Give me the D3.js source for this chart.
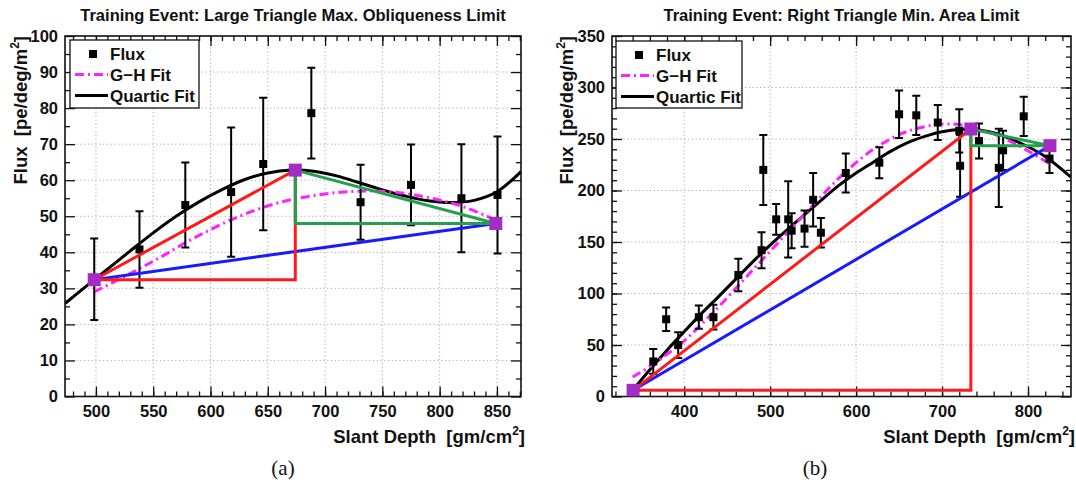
<!DOCTYPE html>
<html>
<head>
<meta charset="utf-8">
<script src="https://cdn.jsdelivr.net/npm/d3@7"></script>
<style>
  body { margin: 0; background: #fff; }
  svg { display: block; }
  text { font-family: "Liberation Sans", Arial, Helvetica, sans-serif; font-weight: bold; fill: #111; white-space: pre; }
  .caption { font-family: "Liberation Serif", "DejaVu Serif", serif; font-weight: normal; }
</style>
</head>
<body>
<svg id="chart" width="1076" height="485"></svg>
<script>
// ---------- Panel (a): Large Triangle Max. Obliqueness Limit ----------
const depthA = [498.5, 538, 578, 618, 646, 688, 731, 775, 819, 850.5];
const fluxA  = [32.5, 40.8, 53.1, 56.7, 64.5, 78.6, 53.9, 58.7, 55.0, 55.9];
const errA   = [11.3, 10.6, 11.8, 17.9, 18.4, 12.6, 10.4, 11.2, 15.0, 16.2];

const vertexDepthA = [498.5, 674, 849];
const vertexFluxA  = [32.4, 62.8, 48.0];

const ghDepthA = [498.5, 520, 540, 560, 580, 600, 620, 640, 660, 680, 700, 720, 740, 760, 780, 800, 820, 840, 849];
const ghFluxA  = [29.0, 32.5, 35.8, 39.3, 43.0, 46.3, 49.3, 51.8, 53.8, 55.2, 56.2, 56.8, 57.0, 56.7, 55.8, 54.5, 52.7, 50.2, 48.9];

const quartDepthA = [473, 490, 510, 530, 550, 570, 590, 610, 630, 650, 670, 690, 710, 730, 750, 770, 790, 810, 830, 850, 871];
const quartFluxA  = [25.8, 30.2, 35.3, 40.4, 45.4, 50.0, 54.0, 57.4, 60.2, 62.0, 62.8, 62.5, 61.2, 59.3, 57.3, 55.6, 54.3, 53.8, 54.4, 56.8, 62.4];

const xTicksA = [500, 550, 600, 650, 700, 750, 800, 850];
const yTicksA = [0, 10, 20, 30, 40, 50, 60, 70, 80, 90, 100];

// ---------- Panel (b): Right Triangle Min. Area Limit ----------
const depthB = [364, 379, 393, 417, 434, 463, 490, 492, 507, 521, 525, 540, 550, 559, 588, 627, 650, 670, 695, 720, 721, 743, 766, 771, 795, 825];
const fluxB  = [34, 75, 50, 77, 77, 118, 142, 220, 172, 172, 161, 163, 191, 159, 217, 227, 274, 273, 266, 258, 224, 248, 222, 239, 272, 231];
const errB   = [12, 11.3, 12.5, 11.3, 12, 15.7, 17.5, 34, 15, 37, 17, 17.7, 26, 14.3, 19, 15, 23, 19, 17, 21, 30, 17, 38, 19, 19, 14];

const vertexDepthB = [340.5, 733.5, 825.5];
const vertexFluxB  = [6, 259.7, 243.5];

const ghDepthB = [340, 360, 380, 400, 420, 440, 460, 480, 500, 520, 540, 560, 580, 600, 620, 640, 660, 680, 700, 720, 740, 760, 780, 800, 825];
const ghFluxB  = [19, 29, 41, 54, 70, 87, 105, 123, 141, 159, 177, 195, 212, 227, 240, 250, 257.5, 262, 264.5, 264, 260.5, 255, 247.5, 238.5, 226];

const quartDepthB = [340, 360, 380, 400, 420, 440, 460, 480, 500, 520, 540, 560, 580, 600, 620, 640, 660, 680, 700, 720, 740, 760, 780, 800, 820, 850];
const quartFluxB  = [6, 26, 45, 63, 80.5, 97, 114, 131, 147, 162, 176.5, 191, 205, 217, 227.5, 238, 246.5, 252.5, 257, 259.3, 259, 256, 250, 242.5, 233, 213];

const xTicksB = [400, 500, 600, 700, 800];
const yTicksB = [0, 50, 100, 150, 200, 250, 300, 350];

const legendLabels = ["Flux", "G\u2212H Fit", "Quartic Fit"];

// ---------- styling ----------
const COL = {
  red: "#ff1a1a", blue: "#1a1aff", green: "#22a04a",
  magenta: "#ff22ff", vertex: "#a22cc4", grid: "#aaaaaa"
};

const svg = d3.select("#chart");

function range(a, b, step) { return d3.range(a, b + step / 2, step); }

function drawPanel(p) {
  const x = d3.scaleLinear().domain(p.xDomain).range([p.left, p.right]);
  const y = d3.scaleLinear().domain(p.yDomain).range([p.bottom, p.top]);
  const g = svg.append("g");
  const clipId = "clip-" + p.id;
  g.append("clipPath").attr("id", clipId).append("rect")
    .attr("x", p.left).attr("y", p.top)
    .attr("width", p.right - p.left).attr("height", p.bottom - p.top);

  // dotted grid
  const grid = g.append("g").attr("stroke", COL.grid).attr("stroke-width", 1)
    .attr("stroke-dasharray", "1.2,2.6");
  grid.selectAll(".gx").data(p.xGrid).join("line")
    .attr("x1", d => x(d)).attr("x2", d => x(d))
    .attr("y1", p.top).attr("y2", p.bottom);
  grid.selectAll(".gy").data(p.yGrid).join("line")
    .attr("y1", d => y(d)).attr("y2", d => y(d))
    .attr("x1", p.left).attr("x2", p.right);

  // axes with inward ticks on all four sides
  const H = p.bottom - p.top, W = p.right - p.left;
  function axes(axisFn, transform, scale, major, minor, labelled, padding) {
    const gm = g.append("g").attr("transform", transform);
    gm.call(axisFn(scale).tickValues(minor).tickSize(-5).tickFormat(""));
    gm.select(".domain").remove();
    const gM = g.append("g").attr("transform", transform);
    gM.call(axisFn(scale).tickValues(major).tickSize(-10).tickPadding(padding)
      .tickFormat(d => (labelled && labelled(d)) ? d : ""));
    gM.select(".domain").remove();
    [gm, gM].forEach(s => s.selectAll("line").attr("stroke", "#111").attr("stroke-width", 1.3));
    gM.selectAll("text").attr("font-size", 16.5).attr("font-family", null).attr("fill", "#111");
    return gM;
  }
  axes(d3.axisBottom, `translate(0,${p.bottom})`, x, p.xMajor, p.xMinor, p.xLabel, 9);
  axes(d3.axisTop, `translate(0,${p.top})`, x, p.xMajor, p.xMinor, null, 3);
  axes(d3.axisLeft, `translate(${p.left},0)`, y, p.yMajor, p.yMinor, d => true, 7);
  axes(d3.axisRight, `translate(${p.right},0)`, y, p.yMajor, p.yMinor, null, 3);

  // frame
  g.append("rect").attr("x", p.left).attr("y", p.top).attr("width", W).attr("height", H)
    .attr("fill", "none").attr("stroke", "#111").attr("stroke-width", 1.6);

  const plot = g.append("g").attr("clip-path", `url(#${clipId})`);
  const line = d3.line().x(d => x(d[0])).y(d => y(d[1])).curve(d3.curveCatmullRom.alpha(0.5));

  // fit curves
  plot.append("path").datum(d3.zip(p.qD, p.qF)).attr("d", line)
    .attr("fill", "none").attr("stroke", "#000").attr("stroke-width", 3);
  plot.append("path").datum(d3.zip(p.ghD, p.ghF)).attr("d", line)
    .attr("fill", "none").attr("stroke", COL.magenta).attr("stroke-width", 3)
    .attr("stroke-dasharray", "9,4,2,4");

  // data points with error bars
  const pts = plot.append("g");
  const data = p.depth.map((d, i) => ({ d, f: p.flux[i], e: p.err[i] }));
  const bars = pts.selectAll("g").data(data).join("g").attr("stroke", "#000").attr("stroke-width", 2);
  bars.append("line").attr("x1", d => x(d.d)).attr("x2", d => x(d.d))
    .attr("y1", d => y(d.f - d.e)).attr("y2", d => y(d.f + d.e));
  bars.append("line").attr("x1", d => x(d.d) - 4).attr("x2", d => x(d.d) + 4)
    .attr("y1", d => y(d.f + d.e)).attr("y2", d => y(d.f + d.e));
  bars.append("line").attr("x1", d => x(d.d) - 4).attr("x2", d => x(d.d) + 4)
    .attr("y1", d => y(d.f - d.e)).attr("y2", d => y(d.f - d.e));
  pts.selectAll("rect").data(data).join("rect")
    .attr("x", d => x(d.d) - 4).attr("y", d => y(d.f) - 4)
    .attr("width", 8).attr("height", 8).attr("fill", "#000");

  // training-event triangles
  const v = p.vD.map((d, i) => [d, p.vF[i]]);
  const straight = d3.line().x(d => x(d[0])).y(d => y(d[1]));
  plot.append("path").datum([v[0], v[2]]).attr("d", straight)
    .attr("fill", "none").attr("stroke", COL.blue).attr("stroke-width", 3);
  plot.append("path").datum([v[0], v[1], [v[1][0], v[0][1]], v[0]]).attr("d", straight)
    .attr("fill", "none").attr("stroke", COL.red).attr("stroke-width", 3);
  plot.append("path").datum([v[1], v[2], [v[1][0], v[2][1]], v[1]]).attr("d", straight)
    .attr("fill", "none").attr("stroke", COL.green).attr("stroke-width", 3);
  plot.selectAll(".vtx").data(v).join("rect")
    .attr("x", d => x(d[0]) - 6.5).attr("y", d => y(d[1]) - 6.5)
    .attr("width", 13).attr("height", 13).attr("fill", COL.vertex);

  // legend
  const L = p.legend;
  const lg = g.append("g");
  lg.append("rect").attr("x", L.x).attr("y", L.y).attr("width", L.w).attr("height", L.h)
    .attr("fill", "#fff").attr("stroke", "#111").attr("stroke-width", 1.3);
  const rows = [L.y + 14, L.y + 34.5, L.y + 55.5];
  lg.append("rect").attr("x", L.x + 19).attr("y", rows[0] - 4).attr("width", 8).attr("height", 8).attr("fill", "#000");
  lg.append("line").attr("x1", L.x + 5).attr("x2", L.x + 38).attr("y1", rows[1]).attr("y2", rows[1])
    .attr("stroke", COL.magenta).attr("stroke-width", 3).attr("stroke-dasharray", "9,4,2,4");
  lg.append("line").attr("x1", L.x + 5).attr("x2", L.x + 38).attr("y1", rows[2]).attr("y2", rows[2])
    .attr("stroke", "#000").attr("stroke-width", 3);
  lg.selectAll("text").data(legendLabels).join("text")
    .attr("x", L.x + 40).attr("y", (d, i) => rows[i] + 6).attr("font-size", 17).text(d => d);

  // titles
  g.append("text").attr("x", (p.left + p.right) / 2).attr("y", 21).attr("text-anchor", "middle")
    .attr("font-size", 16.5).text(p.title);
  const xt = g.append("text").attr("x", p.right + 4).attr("y", 443).attr("text-anchor", "end").attr("font-size", 18.5);
  xt.append("tspan").text("Slant Depth  [gm/cm");
  xt.append("tspan").attr("dy", -8).attr("font-size", 12).text("2");
  xt.append("tspan").attr("dy", 8).text("]");
  const yt = g.append("text").attr("transform", `translate(${p.yTitleX},${p.top}) rotate(-90)`)
    .attr("text-anchor", "end").attr("font-size", 18.5);
  yt.append("tspan").text("Flux  [pe/deg/m");
  yt.append("tspan").attr("dy", -8).attr("font-size", 12).text("2");
  yt.append("tspan").attr("dy", 8).text("]");

  g.append("text").attr("class", "caption").attr("x", p.captionX).attr("y", 475)
    .attr("text-anchor", "middle").attr("font-size", 21).text(p.caption);
}

drawPanel({
  id: "a", left: 65, right: 521, top: 36, bottom: 396.5,
  xDomain: [473, 871], yDomain: [0, 100],
  xMajor: xTicksA, xMinor: range(480, 870, 10), xLabel: d => true, xGrid: xTicksA,
  yMajor: yTicksA, yMinor: range(5, 95, 10), yGrid: yTicksA.slice(1, -1),
  depth: depthA, flux: fluxA, err: errA, vD: vertexDepthA, vF: vertexFluxA,
  ghD: ghDepthA, ghF: ghFluxA, qD: quartDepthA, qF: quartFluxA,
  legend: { x: 70, y: 40, w: 129, h: 68 },
  title: "Training Event: Large Triangle Max. Obliqueness Limit",
  yTitleX: 27, caption: "(a)", captionX: 283
});

drawPanel({
  id: "b", left: 612, right: 1071, top: 36, bottom: 396.5,
  xDomain: [316, 850], yDomain: [0, 350],
  xMajor: xTicksB, xMinor: range(320, 840, 20), xLabel: d => true, xGrid: xTicksB,
  yMajor: yTicksB, yMinor: range(10, 340, 10), yGrid: yTicksB.slice(1, -1),
  depth: depthB, flux: fluxB, err: errB, vD: vertexDepthB, vF: vertexFluxB,
  ghD: ghDepthB, ghF: ghFluxB, qD: quartDepthB, qF: quartFluxB,
  legend: { x: 616, y: 41, w: 126, h: 67 },
  title: "Training Event: Right Triangle Min. Area Limit",
  yTitleX: 573, caption: "(b)", captionX: 815
});
</script>
</body>
</html>
